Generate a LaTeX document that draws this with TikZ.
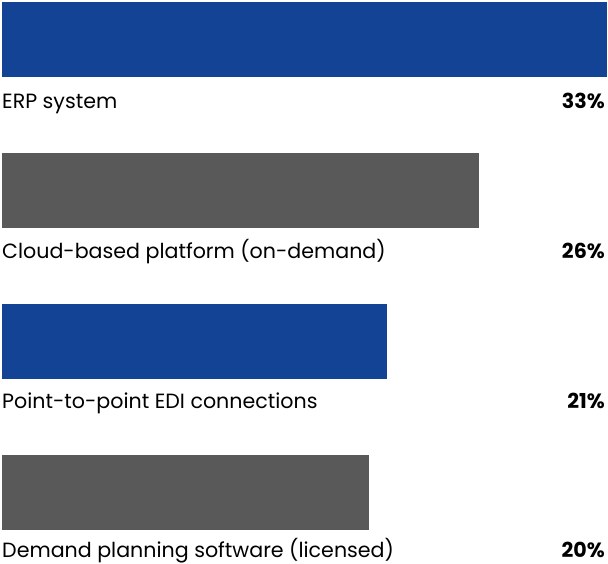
\documentclass[tikz,border=0pt]{standalone}
\usepackage{fontspec}
\setmainfont{Poppins}
\usepackage{tikz}
\definecolor{barblue}{HTML}{134395}
\definecolor{bargray}{HTML}{595959}
\tikzset{
  bar/.style={rectangle, inner sep=0pt, anchor=north west, minimum height=75pt},
  lbl/.style={inner sep=0pt, anchor=base west, font=\fontsize{20.6}{24}\selectfont},
  pct/.style={inner sep=0pt, anchor=base east, font=\fontsize{20.6}{24}\selectfont\bfseries},
}

\begin{document}
\begin{tikzpicture}[x=1pt, y=-1pt]
        \useasboundingbox (0,0) rectangle (608,563);
        \node (b1) [bar, fill=barblue, minimum width=605pt] at (2, 2) {};
        \node (b2) [bar, fill=bargray, minimum width=477pt] at (2, 153) {};
        \node (b3) [bar, fill=barblue, minimum width=385pt] at (2, 304) {};
        \node (b4) [bar, fill=bargray, minimum width=367pt] at (2, 455) {};
        \node (l1) [lbl] at (2, 108) {ERP system};
        \node (l2) [lbl] at (2, 258) {Cloud-based platform (on-demand)};
        \node (l3) [lbl] at (2, 408) {Point-to-point EDI connections};
        \node (l4) [lbl] at (2, 557) {Demand planning software (licensed)};
        \node (p1) [pct] at (605, 108) {33\%};
        \node (p2) [pct] at (605, 258) {26\%};
        \node (p3) [pct] at (605, 408) {21\%};
        \node (p4) [pct] at (605, 557) {20\%};
\end{tikzpicture}
\end{document}
